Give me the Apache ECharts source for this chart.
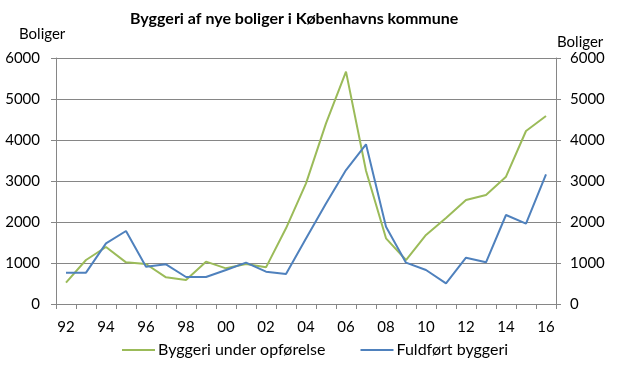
<!DOCTYPE html>
<html><head><meta charset="utf-8">
<script src="https://cdn.jsdelivr.net/npm/echarts@6/dist/echarts.min.js"></script>
<style>html,body{margin:0;padding:0;background:#fff}#c{width:623px;height:368px}</style>
</head><body><div id="c"></div>
<script>
const years = ['92','93','94','95','96','97','98','99','00','01','02','03','04','05','06','07','08','09','10','11','12','13','14','15','16'];
const underConstruction = [520,1073,1390,1016,976,650,585,1033,870,976,894,1846,2943,4407,5667,3250,1602,1073,1683,2100,2537,2659,3106,4220,4585];
const completed = [764,764,1480,1780,910,967,659,659,829,1008,789,732,1600,2450,3268,3894,1886,1008,829,504,1130,1016,2171,1959,3163];
const seriesNames = ['Byggeri under opførelse','Fuldført byggeri'];
const titleText = 'Byggeri af nye boliger i Københavns kommune';
const axisName = 'Boliger';

const FONT = 'Lato';
const chart = echarts.init(document.getElementById('c'), null, {renderer:'canvas'});
const axisCommon = {
  type:'value', min:0, max:6000, interval:1000,
  axisLine:{show:true, lineStyle:{color:'#868686', width:1}},
  axisTick:{show:true, length:5, lineStyle:{color:'#868686'}},
  axisLabel:{color:'#000', fontFamily:FONT, fontSize:15, formatter:function(v){return String(v);}}
};
chart.setOption({
  animation:false,
  title:[
    {text:titleText, left:125, top:6, textStyle:{fontFamily:FONT, fontWeight:'bold', fontSize:16, color:'#000'}},
    {text:axisName, left:14, top:22, textStyle:{fontFamily:FONT, fontWeight:'normal', fontSize:15, color:'#000'}},
    {text:axisName, left:552, top:30, textStyle:{fontFamily:FONT, fontWeight:'normal', fontSize:15, color:'#000'}}
  ],
  grid:{left:56, right:67, top:58, bottom:64, containLabel:false},
  xAxis:{
    type:'category', data:years, boundaryGap:true,
    axisLine:{lineStyle:{color:'#868686'}},
    axisTick:{show:true, interval:0, length:5, lineStyle:{color:'#868686'}},
    axisLabel:{interval:1, color:'#000', fontFamily:FONT, fontSize:15, margin:16}
  },
  yAxis:[
    Object.assign({}, axisCommon, {position:'left', splitLine:{show:true, lineStyle:{color:'#868686', width:1}}, axisLabel:Object.assign({}, axisCommon.axisLabel, {margin:16})}),
    Object.assign({}, axisCommon, {position:'right', splitLine:{show:false}, axisLabel:Object.assign({}, axisCommon.axisLabel, {margin:14})})
  ],
  legend:{
    bottom:5, left:117, itemWidth:33, itemHeight:2, itemGap:35, icon:'rect',
    textStyle:{fontFamily:FONT, fontSize:16, color:'#000', padding:[0,0,0,-2]},
    data:seriesNames
  },
  series:[
    {name:seriesNames[0], type:'line', data:underConstruction, yAxisIndex:0, symbol:'none', lineStyle:{color:'#9BBB59', width:2}, itemStyle:{color:'#9BBB59'}},
    {name:seriesNames[1], type:'line', data:completed, yAxisIndex:1, symbol:'none', lineStyle:{color:'#4F81BD', width:2}, itemStyle:{color:'#4F81BD'}}
  ]
});
</script></body></html>
